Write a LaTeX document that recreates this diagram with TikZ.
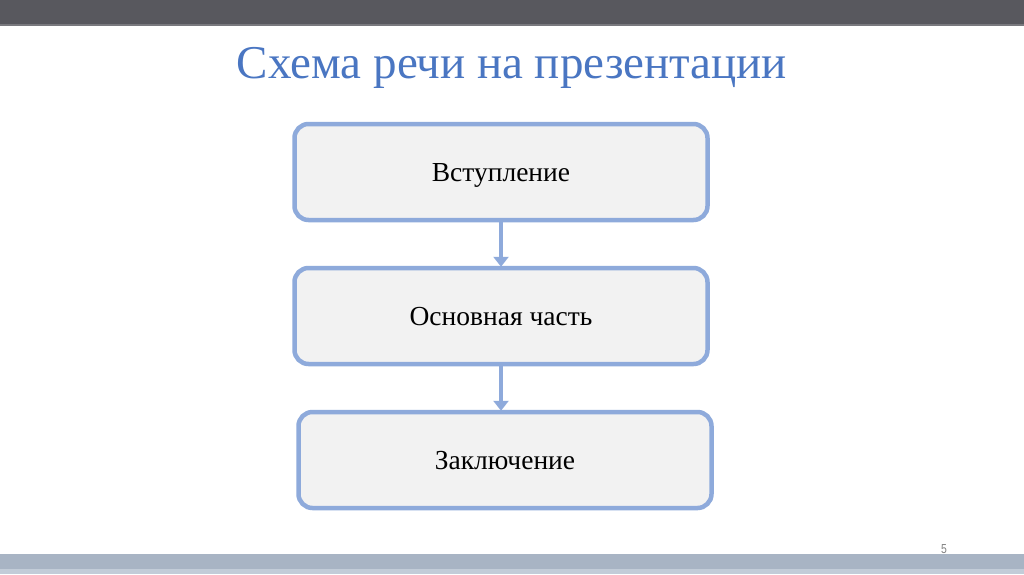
\documentclass[tikz,border=0pt]{standalone}
\usepackage{fontspec}
\setmainfont{Liberation Serif}
\newfontfamily\numfont{Liberation Sans}
\usetikzlibrary{arrows.meta}
\definecolor{topbar}{HTML}{58585E}
\definecolor{botbar}{HTML}{A8B4C4}
\definecolor{botbar2}{HTML}{C2CCD8}
\definecolor{boxline}{HTML}{8EAADB}
\definecolor{boxfill}{HTML}{F2F2F2}
\definecolor{titleblue}{HTML}{4A76C2}
\tikzset{
  stepbox/.style={draw=boxline, line width=4.5pt, fill=boxfill, rounded corners=14pt,
    minimum width=413pt, minimum height=96pt, inner sep=0pt, text height=18pt, text depth=0pt,
    font=\fontsize{27.5}{32}\selectfont},
  flowarrow/.style={draw=boxline, line width=3.5pt, -{Triangle[length=10pt,width=15pt]}, shorten >=-1pt}
}
\begin{document}
\begin{tikzpicture}[x=1pt,y=-1pt]
\useasboundingbox (0,0) rectangle (1024,574);
\fill[white] (0,0) rectangle (1024,574);
\fill[topbar] (0,0) rectangle (1024,24);
\fill[topbar!80] (0,24) rectangle (1024,26);
\fill[botbar] (0,554) rectangle (1024,569);
\fill[botbar2] (0,569) rectangle (1024,574);
\node[text=titleblue, anchor=base, font=\fontsize{47}{54}\selectfont] (title) at (512,78) {Схема речи на презентации};
\node[stepbox] (b1) at (501,172) {Вступление};
\node[stepbox] (b2) at (501,316) {Основная часть};
\node[stepbox] (b3) at (505,460) {Заключение};
\draw[flowarrow] (b1.south -| 501,0) -- (b2.north -| 501,0);
\draw[flowarrow] (b2.south -| 501,0) -- (b3.north -| 501,0);
\node[text=gray, font=\numfont\fontsize{13}{15}\selectfont, xscale=0.8] (pg) at (944,549) {5};
\end{tikzpicture}
\end{document}
